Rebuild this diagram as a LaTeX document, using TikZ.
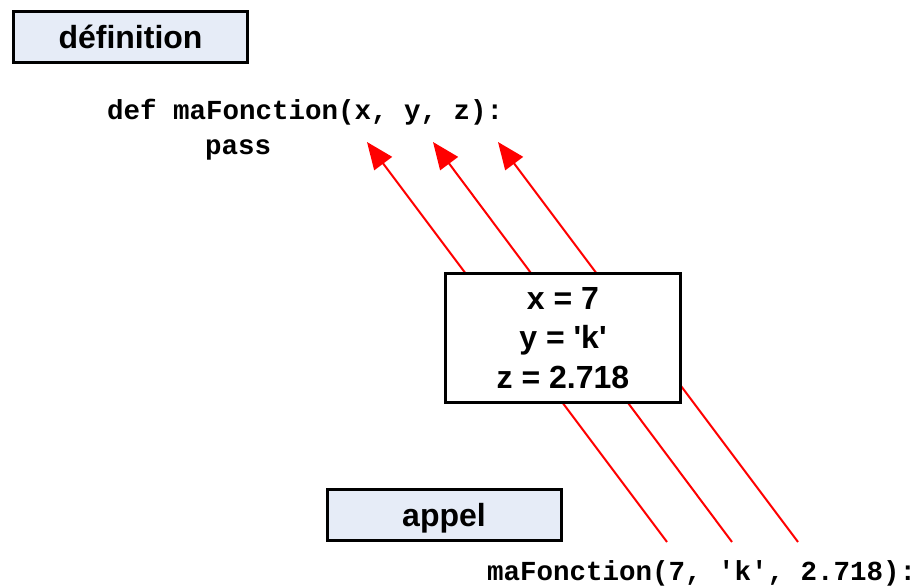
\documentclass[tikz,border=0pt]{standalone}
\usepackage{fontspec}
\setmainfont{Liberation Sans}
\newfontfamily\codefont{Liberation Mono}
\usetikzlibrary{arrows.meta}
\definecolor{boxblue}{HTML}{E6ECF7}
\tikzset{
  labelbox/.style={draw=black, line width=3pt, fill=boxblue, minimum width=234pt, minimum height=51pt, inner sep=0pt, font=\fontsize{32}{38}\selectfont\bfseries},
  valbox/.style={draw=black, line width=3pt, fill=white, minimum width=235pt, minimum height=129pt, inner sep=0pt, align=center, font=\fontsize{32}{39.5}\selectfont\bfseries},
  code/.style={inner sep=0pt, anchor=base west, font=\fontsize{27.5}{32}\selectfont\codefont\bfseries},
  param/.style={red, line width=2pt, -{Triangle[length=27pt,width=22pt]}}
}
\begin{document}
\begin{tikzpicture}[x=1pt,y=-1pt]
\useasboundingbox (0,0) rectangle (917,588);
\node[labelbox] (def) at (130.5,37) {définition};
\node[code] (defline) at (107,120) {def maFonction(x, y, z):};
\node[code] (pass) at (205,154) {pass};
\coordinate (xb) at (667,542);
\coordinate (yb) at (732,542);
\coordinate (zb) at (798,542);
\coordinate (xt) at (367,142);
\coordinate (yt) at (433,142);
\coordinate (zt) at (498,142);
\draw[param] (xb) -- (xt);
\draw[param] (yb) -- (yt);
\draw[param] (zb) -- (zt);
\node[valbox] (vals) at (563,338) {x = 7\\y = \textquotesingle k\textquotesingle\\z = 2.718};
\node[labelbox, text height=24pt, text depth=0pt] (appel) at (444,514.5) {appel};
\node[code] (call) at (487,580) {maFonction(7, 'k', 2.718):};
\end{tikzpicture}
\end{document}
